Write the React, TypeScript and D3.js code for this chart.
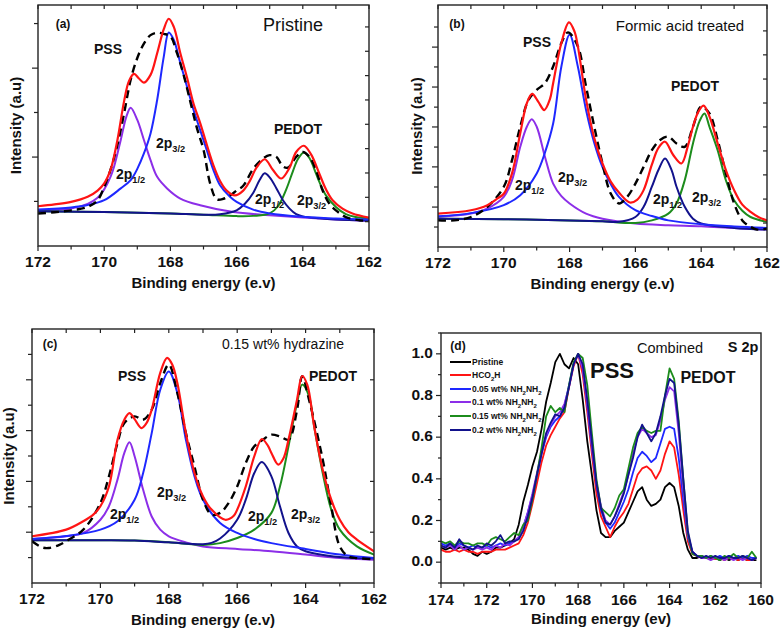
import React from "react";
import * as d3 from "d3";

const FONT = "'Liberation Sans', Arial, Helvetica, sans-serif";
const COL = { red: "#ff1414", blue: "#1e28ff", purple: "#8c2ee8", navy: "#12128c", green: "#1c8c1c", black: "#000000" };

type P = [number, number];

// ---------- Panel (a) Pristine : [binding energy, intensity (0..100 of frame)] ----------
const aEnvelope: P[] = [[172,16.5],[171.5,17.3],[171,18.3],[170.5,20.4],[170.2,23],[170,26],[169.8,32],[169.6,44],[169.4,60],[169.25,68.5],[169.1,71.4],[168.95,69.5],[168.8,67.8],[168.6,71],[168.4,80],[168.2,90],[168.05,94.3],[167.9,91],[167.7,80],[167.5,70],[167.3,59],[167.1,51],[166.9,42],[166.7,33.5],[166.5,27],[166.3,23],[166.05,21],[165.8,23],[165.6,27],[165.4,32.5],[165.15,36],[164.9,31.5],[164.65,28],[164.4,32.5],[164.2,39],[163.97,41.6],[163.75,38],[163.5,30],[163.3,23.5],[163.1,19],[162.8,15.5],[162.5,13.5],[162,11.8]];
const aPss32: P[] = [[172,15.1],[171,16],[170.5,17],[170,19],[169.5,23.9],[169.2,27.3],[169,32],[168.8,38.4],[168.6,46.7],[168.4,60.6],[168.2,78.6],[168.05,88.6],[167.9,85.6],[167.7,75.9],[167.5,66.2],[167.3,56.4],[167.1,48.1],[166.9,39.8],[166.7,31.5],[166.5,25.2],[166.2,20.4],[166,18.3],[165.5,15.1],[165,13.5],[164,12.1],[163,11.4],[162,11]];
const aPss12: P[] = [[172,14.8],[171,15.6],[170.5,17.5],[170.2,20],[170,23.5],[169.8,29],[169.7,33],[169.5,44],[169.33,53.7],[169.2,57.4],[169,52.3],[168.8,44],[168.6,35.6],[168.4,28.7],[168.1,23.9],[167.7,19.7],[167.1,16.9],[166.1,14.1],[165,12.8],[164,11.8],[163,11],[162,10.4]];
const aPedot12: P[] = [[172,14.4],[170,14.1],[168,13.5],[167,13],[166.5,13.2],[166,14.8],[165.75,17.5],[165.5,22],[165.3,27.5],[165.15,30.2],[165,28.5],[164.8,24],[164.6,19],[164.4,15.5],[164.2,13.2],[164,12.3],[163.5,11.5],[163,11],[162,10.6]];
const aPedot32: P[] = [[172,14.4],[170,14.1],[168,13.5],[167,13],[166,12.4],[165.5,12.5],[165,13.5],[164.75,16.5],[164.5,23.5],[164.3,31],[164.15,36],[163.97,38.8],[163.8,36.5],[163.6,30],[163.5,26.6],[163.3,21],[163,16.2],[162.7,13.2],[162.4,12],[162,11.4]];
const aData: P[] = [[172,13.5],[171.5,14],[171,14.8],[170.5,16.2],[170.2,19],[170,24.5],[169.8,32],[169.6,42],[169.4,55],[169.2,69],[169,78],[168.8,84],[168.6,87.5],[168.4,88.5],[168.2,88],[168,87],[167.8,80],[167.6,71],[167.4,60],[167.2,49],[167,40],[166.8,26],[166.6,19.4],[166.4,19.6],[166.2,21],[166,23],[165.8,25],[165.5,32],[165.2,36.3],[165,37.7],[164.8,37],[164.6,33],[164.45,32.5],[164.2,37],[164,39],[163.8,37],[163.6,31.5],[163.4,23],[163.2,17.6],[163,14.8],[162.7,12],[162.3,10.7],[162,10.4]];

// ---------- Panel (b) Formic acid treated ----------
const bEnvelope: P[] = [[172,13.8],[171,15.2],[170.5,17.3],[170.2,20],[170,22],[169.75,30.4],[169.5,47],[169.3,59.4],[169.14,63.3],[168.95,60],[168.77,56.6],[168.6,61],[168.5,67.7],[168.25,84.3],[168.02,92.8],[167.85,89],[167.75,83],[167.5,61],[167.25,45],[167,34.5],[166.75,27],[166.5,22.5],[166.17,18.4],[165.95,19.5],[165.75,23.5],[165.5,34],[165.3,41],[165.1,43.5],[164.85,38],[164.6,34.5],[164.4,42],[164.25,49.7],[164.1,55.5],[163.93,58.4],[163.75,54],[163.5,42.8],[163.25,31.8],[163,23.5],[162.75,17.5],[162.5,14.5],[162.25,12.3],[162,11]];
const bPss32: P[] = [[172,12.7],[171,14],[170,17.3],[169.5,21.4],[169,30.4],[168.75,39],[168.5,51],[168.25,74.6],[168,87.7],[167.75,74.6],[167.5,56.6],[167.25,43],[167,33],[166.75,26],[166.5,20.7],[166,15.2],[165.5,12.8],[165,11],[164,9.4],[163,8.5],[162,7.9]];
const bPss12: P[] = [[172,12.4],[171,13.8],[170.5,15.9],[170,20.7],[169.75,27.6],[169.5,41.4],[169.3,49.7],[169.15,52.8],[169,49.7],[168.75,37.3],[168.5,26.2],[168.25,21],[168,18],[167.5,13.8],[167,11.7],[166,9.7],[165,9],[164,8.6],[163,7.8],[162,7.2]];
const bPedot12: P[] = [[172,11.7],[170,11.5],[168,11],[167,10.6],[166.5,10.4],[166,12.4],[165.75,16.6],[165.5,24.9],[165.3,31.8],[165.1,36.6],[164.9,31.8],[164.75,24.9],[164.5,16.6],[164.25,11.7],[164,9.7],[163,7.9],[162,7.2]];
const bPedot32: P[] = [[172,11.7],[170,11.5],[168,11],[167,10.6],[166,9.9],[165.5,11],[165,13.8],[164.75,18],[164.5,27.6],[164.25,42.8],[164.05,52],[163.9,55.2],[163.75,49.7],[163.5,40],[163.25,27.6],[163,19.3],[162.75,15],[162.5,12.4],[162,10.4]];
const bData: P[] = [[172,11],[171.5,11],[171,12.4],[170.5,16.6],[170,24.9],[169.75,35.9],[169.5,49.7],[169.25,60.8],[169,64.9],[168.75,67.7],[168.5,74.6],[168.25,84.3],[168.05,88.7],[167.75,82.9],[167.5,66.3],[167.25,49.7],[167,34.5],[166.75,22.1],[166.5,18],[166.25,20.7],[166,26.2],[165.75,33.1],[165.5,40],[165.25,44.2],[165,45.6],[164.75,42.8],[164.5,41.4],[164.25,49.7],[164,58],[163.75,55.2],[163.5,44.2],[163.25,30.4],[163,18],[162.75,11],[162.5,8.3],[162.3,7.2],[162,7.6]];

// ---------- Panel (c) 0.15 wt% hydrazine ----------
const cEnvelope: P[] = [[172,18.4],[171,21],[170.5,24.3],[170.2,27],[170,30.2],[169.75,38],[169.5,56.4],[169.3,64.3],[169.15,66.9],[169,64.5],[168.8,61],[168.65,63],[168.5,68.2],[168.25,82.7],[168.05,88.6],[167.9,86],[167.75,78.7],[167.5,59],[167.25,43.3],[167,34.1],[166.75,28.9],[166.35,24.9],[166.1,26.5],[166,28.9],[165.75,38],[165.5,49.9],[165.28,56.7],[165.1,54],[165,51.2],[164.8,46.6],[164.65,49],[164.5,56.4],[164.25,72.2],[164.1,81.5],[163.95,78],[163.75,61.7],[163.5,44.6],[163.25,32.8],[163,24.9],[162.75,20],[162.5,17.1],[162,12.5]];
const cPss32: P[] = [[172,17.3],[171,18.5],[170,21],[169.5,24.3],[169,32.8],[168.75,43.3],[168.5,59],[168.25,76.1],[168,83.3],[167.75,74.8],[167.5,56.4],[167.25,42],[167,32.8],[166.5,23.6],[166,19.7],[165.5,17.3],[165,15.7],[164,13.4],[163,11.2],[162,9.8]];
const cPss12: P[] = [[172,17.3],[171,18.4],[170.5,19.7],[170,24.9],[169.75,30.2],[169.5,40.7],[169.3,51.2],[169.15,55.4],[169,49.9],[168.75,36.7],[168.5,26.2],[168.25,21],[168,18.4],[167.5,16],[167,14.4],[166,13.4],[165,12.5],[164,11.2],[163,9.8],[162,9.2]];
const cPedot12: P[] = [[172,16.8],[170,16.8],[169,16.7],[168,16],[167,15.3],[166.75,15.8],[166.5,17.5],[166,24.9],[165.75,32.8],[165.5,43.3],[165.28,47.6],[165,42],[164.75,30.2],[164.5,19.7],[164.25,14.4],[164,12.5],[163,10.2],[162,9.7]];
const cPedot32: P[] = [[172,16.8],[170,16.8],[169,16.7],[168,16],[167,15],[166.5,15.7],[166,17.7],[165.5,21],[165,27.6],[164.75,38],[164.5,53.8],[164.25,70.9],[164.1,78.1],[163.9,73.5],[163.75,61.7],[163.5,43.3],[163.25,28.9],[163,21],[162.5,14.4],[162,11.2]];
const cData: P[] = [[172,16.4],[171.7,14],[171.5,13.8],[171.2,15],[171,16.5],[170.5,21],[170,31.5],[169.75,42],[169.5,55.1],[169.3,63],[169,65.6],[168.75,64.3],[168.5,68.2],[168.25,78.7],[168,86],[167.75,74.8],[167.5,59],[167.25,45.9],[167,32.8],[166.75,26.9],[166.5,27.6],[166.25,31.5],[166,38],[165.75,47.2],[165.5,53.8],[165.25,56.4],[165,58.4],[164.75,57.7],[164.5,56.4],[164.25,68.2],[164.1,81.4],[163.9,72.2],[163.5,48.6],[163.25,30.2],[163,14.4],[162.75,10.5],[162.5,9.8],[162,9.4]];

// ---------- Panel (d) Combined S 2p ----------
const dEnergy: number[] = [174.0,173.8,173.6,173.4,173.2,173.0,172.8,172.6,172.4,172.2,172.0,171.8,171.6,171.4,171.2,171.0,170.8,170.6,170.4,170.2,170.0,169.8,169.6,169.4,169.2,169.0,168.8,168.6,168.4,168.2,168.0,167.8,167.6,167.4,167.2,167.0,166.8,166.6,166.4,166.2,166.0,165.8,165.6,165.4,165.2,165.0,164.8,164.6,164.4,164.2,164.0,163.8,163.6,163.4,163.2,163.0,162.8,162.6,162.4,162.2,162.0,161.8,161.6,161.4,161.2,161.0,160.8,160.6,160.4,160.2];
const dPristine: number[] = [.07,.06,.07,.06,.07,.07,.06,.04,.03,.05,.04,.05,.07,.07,.08,.09,.11,.18,.29,.37,.46,.53,.64,.77,.86,.96,1.0,.95,.93,.98,.95,.78,.58,.42,.25,.14,.12,.12,.15,.17,.19,.24,.29,.34,.36,.30,.27,.28,.30,.36,.38,.36,.27,.14,.06,.02,.02,.03,.02,.02,.02,.01,.02,.01,.02,.01,.02,.01,.01,.01];
const dFormic: number[] = [.06,.05,.05,.06,.05,.06,.05,.05,.04,.05,.05,.05,.06,.06,.06,.07,.08,.09,.13,.19,.28,.38,.48,.56,.61,.65,.69,.72,.84,.94,1.0,.90,.72,.52,.33,.22,.17,.12,.17,.21,.24,.28,.35,.42,.45,.46,.44,.40,.44,.52,.58,.55,.42,.25,.10,.04,.03,.02,.02,.02,.015,.02,.01,.02,.02,.01,.02,.01,.01,.02];
const dHyd005: number[] = [.09,.08,.09,.07,.09,.08,.07,.08,.07,.07,.08,.07,.08,.09,.08,.09,.10,.12,.17,.24,.32,.42,.52,.60,.65,.68,.70,.75,.85,.95,1.0,.93,.75,.55,.37,.25,.19,.16,.19,.24,.29,.35,.43,.50,.53,.51,.48,.50,.57,.64,.65,.64,.50,.30,.12,.05,.03,.03,.02,.03,.02,.03,.02,.03,.02,.03,.02,.03,.02,.02];
const dHyd01: number[] = [.08,.07,.08,.06,.08,.06,.07,.06,.07,.06,.07,.06,.08,.07,.09,.08,.10,.12,.17,.24,.33,.43,.53,.61,.66,.70,.72,.76,.84,.95,1.0,.93,.76,.56,.38,.27,.20,.18,.22,.28,.34,.42,.52,.60,.64,.62,.60,.61,.68,.78,.84,.82,.62,.35,.13,.05,.03,.02,.02,.01,.02,.02,.01,.02,.01,.02,.01,.02,.01,.02];
const dHyd015: number[] = [.10,.09,.10,.08,.10,.09,.09,.08,.09,.09,.08,.11,.12,.11,.10,.12,.14,.13,.18,.20,.30,.42,.55,.70,.75,.72,.74,.72,.85,.96,1.0,.98,.85,.62,.40,.26,.24,.22,.26,.32,.35,.45,.55,.62,.65,.63,.62,.63,.63,.80,.93,.88,.68,.40,.14,.04,.03,.03,.02,.03,.02,.01,.03,.02,.04,.02,.03,.02,.05,.02];
const dHyd02: number[] = [.08,.07,.09,.07,.11,.08,.07,.06,.08,.07,.09,.08,.10,.13,.09,.10,.10,.11,.15,.22,.31,.42,.52,.62,.67,.71,.70,.74,.84,.95,1.0,.95,.78,.58,.38,.26,.19,.18,.22,.27,.33,.42,.50,.60,.66,.62,.58,.62,.70,.80,.88,.86,.66,.40,.15,.05,.03,.02,.03,.02,.03,.02,.02,.03,.02,.02,.03,.02,.01,.02];

const dSeries = [
  { name: "Pristine", values: dPristine, color: COL.black },
  { name: "HCO2H", values: dFormic, color: COL.red },
  { name: "0.05 wt% NH2NH2", values: dHyd005, color: COL.blue },
  { name: "0.1 wt% NH2NH2", values: dHyd01, color: COL.purple },
  { name: "0.15 wt% NH2NH2", values: dHyd015, color: COL.green },
  { name: "0.2 wt% NH2NH2", values: dHyd02, color: COL.navy },
];

const fitTicksX = [172, 171, 170, 169, 168, 167, 166, 165, 164, 163, 162];
const fitLabelsX = [172, 170, 168, 166, 164, 162];
const dTicksX = [174,173,172,171,170,169,168,167,166,165,164,163,162,161,160];
const dLabelsX = [174, 172, 170, 168, 166, 164, 162, 160];
const dTicksY = [-0.1,0,0.1,0.2,0.3,0.4,0.5,0.6,0.7,0.8,0.9,1.0,1.1];
const dLabelsY = [0.0, 0.2, 0.4, 0.6, 0.8, 1.0];

type Frame = { l: number; r: number; t: number; b: number };

type Lbl = { x: number; y: number; main: string; sub: string };

function SubText({ x, y, main, sub, size }: { x: number; y: number; main: string; sub: string; size: number }) {
  return (
    <text x={x} y={y} fontFamily={FONT} fontWeight="bold" fontSize={size} fill="#111">
      {main}
      <tspan fontSize={size * 0.66} dy={size * 0.3}>{sub}</tspan>
    </text>
  );
}

function FitPanel(props: {
  f: Frame;
  env: P[]; p32: P[]; p12: P[]; e12: P[]; e32: P[]; raw: P[];
  leftTicks: number[]; leftMajor: number[]; rightTicks: number[];
  titleX: number; tag: string; tagPos: [number, number];
  caption: string; capPos: [number, number]; capSize: number;
  pss: [number, number]; pedot: [number, number];
  peakLabels: Lbl[];
}) {
  const { f } = props;
  const x = d3.scaleLinear().domain([172, 162]).range([f.l, f.r]);
  const y = d3.scaleLinear().domain([0, 100]).range([f.b, f.t]);
  const line = d3.line<P>().x(d => x(d[0])).y(d => y(d[1])).curve(d3.curveCatmullRom.alpha(0.5));
  const clipId = "clip" + props.tag.replace(/\W/g, "");
  return (
    <g>
      <defs>
        <clipPath id={clipId}><rect x={f.l} y={f.t} width={f.r - f.l} height={f.b - f.t} /></clipPath>
      </defs>
      <g clipPath={`url(#${clipId})`} fill="none" strokeLinejoin="round" strokeLinecap="round">
        <path d={line(props.p12) || ""} stroke={COL.purple} strokeWidth={2} />
        <path d={line(props.e32) || ""} stroke={COL.green} strokeWidth={2} />
        <path d={line(props.e12) || ""} stroke={COL.navy} strokeWidth={2} />
        <path d={line(props.p32) || ""} stroke={COL.blue} strokeWidth={2} />
        <path d={line(props.raw) || ""} stroke="#000" strokeWidth={2.4} strokeDasharray="8,5" strokeLinecap="butt" />
        <path d={line(props.env) || ""} stroke={COL.red} strokeWidth={2.2} />
      </g>
      <rect x={f.l} y={f.t} width={f.r - f.l} height={f.b - f.t} fill="none" stroke="#222" strokeWidth={1.4} />
      {fitTicksX.map(v => (
        <g key={"bx" + v}>
          <line x1={x(v)} x2={x(v)} y1={f.b} y2={f.b + (v % 2 === 0 ? 5 : 3.5)} stroke="#222" strokeWidth={1.2} />
          <line x1={x(v)} x2={x(v)} y1={f.t} y2={f.t + 4} stroke="#222" strokeWidth={1.2} />
        </g>
      ))}
      {props.leftTicks.map(v => (
        <line key={"ly" + v} x1={f.l} x2={f.l - (props.leftMajor.includes(v) ? 6 : 4)} y1={y(v)} y2={y(v)} stroke="#222" strokeWidth={1.2} />
      ))}
      {props.rightTicks.map(v => (
        <line key={"ry" + v} x1={f.r} x2={f.r - 4} y1={y(v)} y2={y(v)} stroke="#222" strokeWidth={1.2} />
      ))}
      {fitLabelsX.map(v => (
        <text key={"xl" + v} x={x(v)} y={f.b + 21} textAnchor="middle" fontFamily={FONT} fontWeight="bold" fontSize={15.5} fill="#111">{v}</text>
      ))}
      <text x={(f.l + f.r) / 2} y={f.b + 42} textAnchor="middle" fontFamily={FONT} fontWeight="bold" fontSize={15} fill="#111">Binding energy (e.v)</text>
      <text transform={`translate(${props.titleX},${(f.t + f.b) / 2}) rotate(-90)`} textAnchor="middle" dominantBaseline="middle" fontFamily={FONT} fontWeight="bold" fontSize={15} fill="#111">Intensity (a.u)</text>
      <text x={props.tagPos[0]} y={props.tagPos[1]} textAnchor="middle" dominantBaseline="middle" fontFamily={FONT} fontWeight="bold" fontSize={12} fill="#111">{props.tag}</text>
      <text x={props.capPos[0]} y={props.capPos[1]} textAnchor="middle" dominantBaseline="middle" fontFamily={FONT} fontSize={props.capSize} fill="#111">{props.caption}</text>
      <text x={props.pss[0]} y={props.pss[1]} textAnchor="middle" dominantBaseline="middle" fontFamily={FONT} fontWeight="bold" fontSize={14} fill="#111">PSS</text>
      <text x={props.pedot[0]} y={props.pedot[1]} textAnchor="middle" dominantBaseline="middle" fontFamily={FONT} fontWeight="bold" fontSize={14} fill="#111">PEDOT</text>
      {props.peakLabels.map((l, i) => (
        <SubText key={i} x={l.x} y={l.y} main={l.main} sub={l.sub} size={14} />
      ))}
    </g>
  );
}

function CombinedPanel({ f }: { f: Frame }) {
  const x = d3.scaleLinear().domain([174, 160]).range([f.l, f.r]);
  const y = d3.scaleLinear().domain([-0.1, 1.1]).range([f.b, f.t]);
  const line = d3.line<number>().x((_, i) => x(dEnergy[i])).y(d => y(d));
  const legY = [362, 375, 389, 402, 416, 430];
  const legendText = (name: string) => {
    const m = name.match(/^(.*?)(NH)2(NH)2$/);
    if (name === "HCO2H") return (<>HCO<tspan fontSize={6} dy={2.5}>2</tspan><tspan dy={-2.5}>H</tspan></>);
    if (m) return (<>{m[1]}NH<tspan fontSize={6} dy={2.5}>2</tspan><tspan dy={-2.5}>NH</tspan><tspan fontSize={6} dy={2.5}>2</tspan></>);
    return name;
  };
  return (
    <g>
      <defs>
        <clipPath id="clipd"><rect x={f.l} y={f.t} width={f.r - f.l} height={f.b - f.t} /></clipPath>
      </defs>
      <g clipPath="url(#clipd)" fill="none" strokeLinejoin="round">
        {dSeries.map(s => (
          <path key={s.name} d={line(s.values) || ""} stroke={s.color} strokeWidth={1.8} />
        ))}
      </g>
      <rect x={f.l} y={f.t} width={f.r - f.l} height={f.b - f.t} fill="none" stroke="#222" strokeWidth={1.4} />
      {dTicksX.map(v => (
        <line key={"dx" + v} x1={x(v)} x2={x(v)} y1={f.b} y2={f.b + (v % 2 === 0 ? 5 : 3.5)} stroke="#222" strokeWidth={1.2} />
      ))}
      {dTicksY.map((v, i) => (
        <line key={"dy" + i} x1={f.l} x2={f.l - (i % 2 === 1 ? 5 : 3)} y1={y(v)} y2={y(v)} stroke="#222" strokeWidth={1.2} />
      ))}
      {dLabelsX.map(v => (
        <text key={"dxl" + v} x={x(v)} y={f.b + 22} textAnchor="middle" fontFamily={FONT} fontWeight="bold" fontSize={15.5} fill="#111">{v}</text>
      ))}
      {dLabelsY.map(v => (
        <text key={"dyl" + v} x={f.l - 8} y={y(v)} textAnchor="end" dominantBaseline="middle" fontFamily={FONT} fontWeight="bold" fontSize={15.5} fill="#111">{v.toFixed(1)}</text>
      ))}
      <text x={(f.l + f.r) / 2} y={f.b + 41} textAnchor="middle" fontFamily={FONT} fontWeight="bold" fontSize={15} fill="#111">Binding energy (ev)</text>
      <text x={458} y={347} textAnchor="middle" dominantBaseline="middle" fontFamily={FONT} fontWeight="bold" fontSize={12} fill="#111">(d)</text>
      <text x={670} y={349} textAnchor="middle" dominantBaseline="middle" fontFamily={FONT} fontSize={14.5} fill="#111">Combined</text>
      <text x={743} y={348} textAnchor="middle" dominantBaseline="middle" fontFamily={FONT} fontWeight="bold" fontSize={14.5} fill="#111">S 2p</text>
      <text x={612} y={372} textAnchor="middle" dominantBaseline="middle" fontFamily={FONT} fontWeight="bold" fontSize={22} fill="#111">PSS</text>
      <text x={708} y={379} textAnchor="middle" dominantBaseline="middle" fontFamily={FONT} fontWeight="bold" fontSize={16} fill="#111">PEDOT</text>
      {dSeries.map((s, i) => (
        <g key={"leg" + s.name}>
          <line x1={450} x2={471} y1={legY[i]} y2={legY[i]} stroke={s.color} strokeWidth={2} />
          <text x={472} y={legY[i] + 3} fontFamily={FONT} fontWeight="bold" fontSize={8.5} fill="#111">{legendText(s.name)}</text>
        </g>
      ))}
    </g>
  );
}

export default function App() {
  const fa: Frame = { l: 38, r: 369, t: 5, b: 246 };
  const fb: Frame = { l: 438, r: 767, t: 5, b: 247 };
  const fc: Frame = { l: 32, r: 374, t: 329, b: 583 };
  const fd: Frame = { l: 441, r: 761, t: 333, b: 583 };
  return (
    <svg width={783} height={631} viewBox="0 0 783 631" style={{ display: "block", position: "absolute", left: 0, top: 0, background: "#fff" }}>
      <rect x={0} y={0} width={783} height={631} fill="#fff" />
      <FitPanel f={fa} env={aEnvelope} p32={aPss32} p12={aPss12} e12={aPedot12} e32={aPedot32} raw={aData}
        leftTicks={[18.5, 36.9, 55.4, 73.8, 92.3]} leftMajor={[36.9, 73.8]}
        rightTicks={[10.1, 20.2, 30.3, 40.4, 50.5, 60.6, 70.7, 80.8, 90.9]}
        titleX={17} tag="(a)" tagPos={[63, 25]} caption="Pristine" capPos={[293, 26]} capSize={18}
        pss={[108, 50]} pedot={[298, 130]}
        peakLabels={[
          { x: 116, y: 179, main: "2p", sub: "1/2" },
          { x: 156, y: 148, main: "2p", sub: "3/2" },
          { x: 255, y: 204, main: "2p", sub: "1/2" },
          { x: 297, y: 205, main: "2p", sub: "3/2" },
        ]} />
      <FitPanel f={fb} env={bEnvelope} p32={bPss32} p12={bPss12} e12={bPedot12} e32={bPedot32} raw={bData}
        leftTicks={[8.26, 16.5, 24.8, 33.1, 41.3, 49.6, 57.8, 66.1, 74.4, 82.6, 90.9]} leftMajor={[16.5, 33.1, 49.6, 66.1, 82.6]}
        rightTicks={[9.9, 19.8, 29.8, 39.7, 49.6, 59.5, 69.4, 79.4, 89.3]}
        titleX={418} tag="(b)" tagPos={[457, 25]} caption="Formic acid treated" capPos={[680, 27]} capSize={15}
        pss={[537, 43]} pedot={[695, 87]}
        peakLabels={[
          { x: 515, y: 190, main: "2p", sub: "1/2" },
          { x: 558, y: 182, main: "2p", sub: "3/2" },
          { x: 653, y: 204, main: "2p", sub: "1/2" },
          { x: 692, y: 202, main: "2p", sub: "3/2" },
        ]} />
      <FitPanel f={fc} env={cEnvelope} p32={cPss32} p12={cPss12} e12={cPedot12} e32={cPedot32} raw={cData}
        leftTicks={[10, 20, 30, 40, 50, 60, 70, 80, 90]} leftMajor={[20, 40, 60, 80]}
        rightTicks={[20, 40, 60, 80]}
        titleX={10} tag="(c)" tagPos={[50, 345]} caption="0.15 wt% hydrazine" capPos={[283, 345]} capSize={14}
        pss={[132, 377]} pedot={[333, 377]}
        peakLabels={[
          { x: 110, y: 519, main: "2p", sub: "1/2" },
          { x: 157, y: 497, main: "2p", sub: "3/2" },
          { x: 248, y: 521, main: "2p", sub: "1/2" },
          { x: 291, y: 519, main: "2p", sub: "3/2" },
        ]} />
      <CombinedPanel f={fd} />
    </svg>
  );
}
